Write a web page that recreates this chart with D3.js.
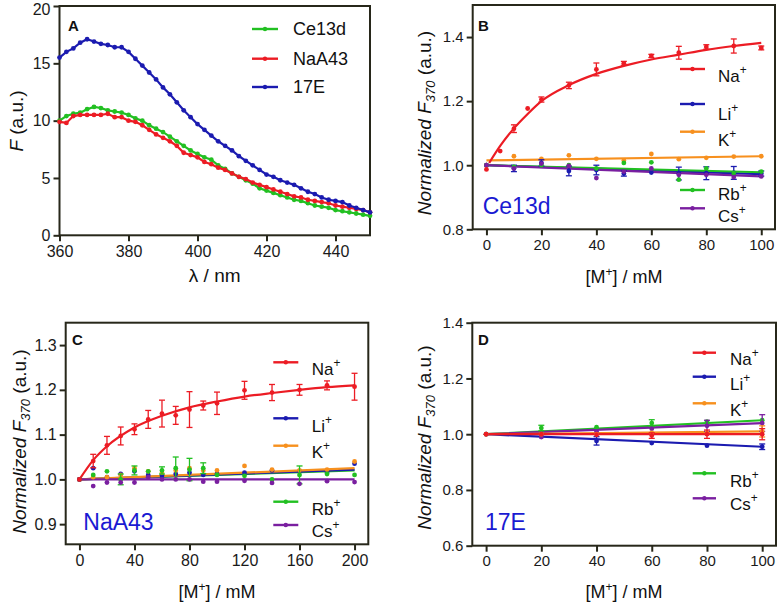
<!DOCTYPE html>
<html><head><meta charset="utf-8">
<script src="https://cdn.jsdelivr.net/npm/d3@7"></script>
<style>body{margin:0;background:#fff}svg{display:block;font-family:"Liberation Sans",Arial,sans-serif}</style>
</head><body><svg id="c" width="777" height="611"></svg>
<script>
// ---------- Panel A data ----------
const lambdaNm = [360,362,364,366,368,370,372,374,376,378,380,382,384,386,388,390,392,394,396,398,400,402,404,406,408,410,412,414,416,418,420,422,424,426,428,430,432,434,436,438,440,442,444,446,448,450];
const specCe13d = [10.0,10.4,10.6,10.7,11.0,11.2,11.1,10.9,10.8,10.7,10.5,10.2,10.0,9.6,9.3,9.0,8.6,8.2,7.8,7.4,7.1,6.8,6.6,6.1,5.8,5.4,5.1,4.8,4.5,4.1,3.9,3.7,3.5,3.3,3.1,3.0,2.8,2.6,2.5,2.4,2.2,2.1,2.0,1.9,1.8,1.7];
const specNaA43 = [9.9,9.8,10.4,10.5,10.5,10.5,10.5,10.6,10.3,10.3,10.0,9.9,9.6,9.2,8.8,8.5,8.2,7.8,7.2,7.0,6.8,6.4,6.2,5.9,5.7,5.4,5.1,4.9,4.6,4.4,4.2,4.0,3.8,3.6,3.4,3.3,3.1,3.0,2.9,2.8,2.6,2.5,2.4,2.3,2.2,2.0];
const spec17E = [15.5,16.0,16.3,16.8,17.1,16.9,16.7,16.6,16.4,16.4,16.0,15.4,14.8,14.2,13.6,12.9,12.3,11.6,10.9,10.3,9.7,9.2,8.7,8.2,7.8,7.4,6.9,6.5,6.1,5.7,5.3,5.1,4.8,4.6,4.4,4.1,3.8,3.6,3.3,3.1,3.0,2.9,2.6,2.4,2.2,2.0];
const ticksAx = [360,380,400,420,440];
const ticksAy = [0,5,10,15,20];

// ---------- Panel B data (Ce13d) ----------
const concB_Na = [0,5,10,15,20,30,40,50,60,70,80,90,100];
const concB = [0,10,20,30,40,50,60,70,80,90,100];
const B_Na = [0.987,1.044,1.114,1.177,1.205,1.249,1.299,1.318,1.341,1.351,1.369,1.372,1.366];
const B_NaErr = [0,0,0.012,0,0.008,0.01,0.02,0.006,0.005,0.02,0.007,0.022,0.006];
const B_Li = [1.0,0.99,1.007,0.982,0.985,0.974,0.977,0.974,0.975,0.976,0.974];
const B_LiErr = [0,0.01,0.01,0.015,0.015,0.008,0,0.02,0.02,0.02,0.008];
const B_K = [1.0,1.028,1.02,1.031,1.02,1.015,1.035,1.019,1.023,1.027,1.028];
const B_Rb = [1.0,0.995,1.0,1.0,0.99,1.007,1.009,0.955,0.99,0.976,0.98];
const B_Cs = [1.0,0.99,1.005,0.998,0.96,0.98,0.99,0.97,0.97,0.963,0.965];
const fitB_NaX = [1,5,10,15,20,30,40,50,60,70,80,90,100];
const fitB_Na = [1.007,1.06,1.115,1.16,1.2,1.25,1.285,1.31,1.33,1.345,1.36,1.372,1.382];
const fitLinX_B = [0,100];
const fitB_Li = [1.0,0.972], fitB_K = [1.015,1.028], fitB_Rb = [1.0,0.978], fitB_Cs = [1.0,0.965];
const ticksBx = [0,20,40,60,80,100];
const ticksBy = [0.8,1.0,1.2,1.4];

// ---------- Panel C data (NaA43) ----------
const concC = [0,10,20,30,40,50,60,70,80,90,100,120,140,160,180,200];
const C_Na = [1.0,1.041,1.076,1.097,1.112,1.134,1.147,1.143,1.156,1.165,1.17,1.199,1.194,1.2,1.21,1.207];
const C_NaErr = [0,0.015,0.02,0.02,0.012,0.02,0.03,0.02,0.04,0.01,0.025,0.02,0.018,0.012,0.01,0.03];
const C_Li = [1.0,1.025,1.005,1.012,1.018,1.01,1.008,1.012,1.015,1.01,1.012,1.015,1.02,1.018,1.015,1.035];
const C_K = [1.0,1.005,1.005,1.01,1.025,1.018,1.015,1.02,1.025,1.02,1.02,1.03,1.022,1.02,1.022,1.04];
const C_Rb = [1.0,1.01,1.018,1.0,1.02,1.018,1.02,1.025,1.022,1.025,1.01,1.008,1.0,1.01,1.012,1.01];
const C_RbErr = [0,0,0,0.012,0.01,0,0.008,0.025,0.025,0.012,0,0,0,0.02,0,0];
const C_Cs = [1.0,0.985,0.993,0.993,0.993,1.005,1.0,1.0,1.0,0.995,0.995,0.997,0.992,0.99,0.996,0.994];
const fitC_NaX = [0,10,20,40,60,80,100,120,140,160,180,200];
const fitC_Na = [1.0,1.043,1.074,1.116,1.142,1.161,1.174,1.185,1.193,1.2,1.206,1.21];
const fitLinX_C = [0,200];
const fitC_Li = [1.0,1.022], fitC_K = [1.0,1.025], fitC_Rb = [1.0,1.02], fitC_Cs = [1.0,1.0];
const ticksCx = [0,40,80,120,160,200];
const ticksCy = [0.9,1.0,1.1,1.2,1.3];

// ---------- Panel D data (17E) ----------
const concD = [0,20,40,60,80,100];
const D_Na = [1.0,1.0,0.998,0.995,1.0,1.0], D_NaErr = [0,0,0,0.01,0.015,0.02];
const D_Li = [1.0,0.991,0.976,0.968,0.959,0.955], D_LiErr = [0,0,0.015,0,0,0.01];
const D_K = [1.0,1.0,1.0,1.005,1.005,1.01], D_KErr = [0,0,0,0,0,0.02];
const D_Rb = [1.0,1.022,1.025,1.04,1.045,1.05], D_RbErr = [0,0.01,0,0.012,0,0];
const D_Cs = [1.0,0.99,1.01,1.02,1.03,1.04], D_CsErr = [0,0,0,0,0.02,0.03];
const fitLinX_D = [0,100];
const fitD_Na = [1.0,1.0], fitD_Li = [1.0,0.955], fitD_K = [1.0,1.01], fitD_Rb = [1.0,1.05], fitD_Cs = [1.0,1.04];
const ticksDx = [0,20,40,60,80,100];
const ticksDy = [0.6,0.8,1.0,1.2,1.4];

// ---------- drawing ----------
const svg = d3.select("#c");
const FRAME = "#27271a";
const COL = {Na:"#ec1c24", Li:"#1b1bb0", K:"#f7901e", Rb:"#22c022", Cs:"#7a1fa0",
             Ce13d:"#22c022", NaA43:"#ec1c24", E17:"#1b1bb0"};
const LABEL_BLUE = "#1a1ad2";

function makePanel(o){
  const x = d3.scaleLinear().domain(o.xd).range(o.xr);
  const y = d3.scaleLinear().domain(o.yd).range(o.yr);
  const g = svg.append("g");
  const xa = g.append("g").attr("transform",`translate(0,${o.yr[0]})`)
    .call(d3.axisBottom(x).tickValues(o.xt).tickSize(6).tickPadding(4).tickFormat(o.xf||d3.format("d")));
  const ya = g.append("g").attr("transform",`translate(${o.xr[0]},0)`)
    .call(d3.axisLeft(y).tickValues(o.yt).tickSize(6).tickPadding(3).tickFormat(o.yf||d3.format("d")));
  [xa,ya].forEach(a=>{
    a.select(".domain").remove();
    a.selectAll("line").attr("stroke",FRAME).attr("stroke-width",2);
    a.selectAll("text").attr("fill","#1a1a1a").style("font-size",o.tickFs+"px").style("font-family","Liberation Sans, Arial, sans-serif");
  });
  // keep the top-most y tick label inside the picture
  ya.selectAll(".tick text").filter(d=>y(d)<12).attr("dy","0.5em");
  g.append("rect").attr("x",o.xr[0]).attr("y",o.yr[1]).attr("width",o.xr[1]-o.xr[0]).attr("height",o.yr[0]-o.yr[1])
    .attr("fill","none").attr("stroke",FRAME).attr("stroke-width",2);
  g.append("text").attr("x",o.letter[1]).attr("y",o.letter[2]).text(o.letter[0])
    .style("font-size","15px").style("font-weight","bold").attr("fill","#111");
  const plot = g.append("g");
  return {x,y,g,plot};
}

function fitLine(p, xs, ys, color, curve){
  const line = d3.line().x((d,i)=>p.x(xs[i])).y(d=>p.y(d)).curve(curve||d3.curveLinear);
  p.plot.append("path").datum(ys).attr("d",line).attr("fill","none").attr("stroke",color).attr("stroke-width",2.2);
}
function points(p, xs, ys, errs, color){
  ys.forEach((v,i)=>{
    const cx = p.x(xs[i]), cy = p.y(v);
    const e = errs ? errs[i] : 0;
    if(e>0){
      const y1=p.y(v+e), y2=p.y(v-e);
      p.plot.append("line").attr("x1",cx).attr("x2",cx).attr("y1",y1).attr("y2",y2).attr("stroke",color).attr("stroke-width",1.3);
      [y1,y2].forEach(yy=>p.plot.append("line").attr("x1",cx-3).attr("x2",cx+3).attr("y1",yy).attr("y2",yy).attr("stroke",color).attr("stroke-width",1.3));
    }
    p.plot.append("circle").attr("cx",cx).attr("cy",cy).attr("r",2.4).attr("fill",color);
  });
}
function legendEntry(x1,x2,ly,tx,ty,color,label,sup,fs){
  svg.append("line").attr("x1",x1).attr("x2",x2).attr("y1",ly).attr("y2",ly).attr("stroke",color).attr("stroke-width",2.4);
  svg.append("circle").attr("cx",(x1+x2)/2).attr("cy",ly).attr("r",2.2).attr("fill",color);
  const t = svg.append("text").attr("x",tx).attr("y",ty).style("font-size",fs+"px").attr("fill","#111");
  t.append("tspan").text(label);
  if(sup){ t.append("tspan").attr("dy",-8).style("font-size",(fs*0.7)+"px").text(sup); }
}
function xTitleM(cx, by){
  const t = svg.append("text").attr("x",cx).attr("y",by).attr("text-anchor","middle").style("font-size","18px").attr("fill","#111");
  t.append("tspan").text("[M");
  t.append("tspan").attr("dy",-7).style("font-size","12px").text("+");
  t.append("tspan").attr("dy",7).text("] / mM");
}
function yTitleNorm(bx, cy){
  const t = svg.append("text").attr("transform",`translate(${bx},${cy}) rotate(-90)`).attr("text-anchor","middle")
    .style("font-size","19px").attr("fill","#111");
  t.append("tspan").style("font-style","italic").text("Normalized F");
  t.append("tspan").style("font-style","italic").style("font-size","13px").attr("dy",4).text("370");
  t.append("tspan").attr("dy",-4).text(" (a.u.)");
}

// ===== Panel A =====
const pA = makePanel({xd:[360,450], xr:[59.5,370], yd:[0,20], yr:[235.3,6], xt:ticksAx, yt:ticksAy, tickFs:16, letter:["A",68,31]});
[["Ce13d",specCe13d],["NaA43",specNaA43],["E17",spec17E]].forEach(([k,arr])=>{
  fitLine(pA, lambdaNm, arr, COL[k]);
  points(pA, lambdaNm, arr, null, COL[k]);
});
legendEntry(252,278,29,293,35,COL.Ce13d,"Ce13d",null,18);
legendEntry(252,278,58.7,293,64.5,COL.NaA43,"NaA43",null,18);
legendEntry(252,278,87,293,93,COL.E17,"17E",null,18);
svg.append("text").attr("x",214.7).attr("y",282).attr("text-anchor","middle").style("font-size","19px").attr("fill","#111").text("λ / nm");
(function(){
  const t = svg.append("text").attr("transform","translate(23,121) rotate(-90)").attr("text-anchor","middle").style("font-size","19px").attr("fill","#111");
  t.append("tspan").style("font-style","italic").text("F");
  t.append("tspan").text(" (a.u.)");
})();

// ===== Panel B =====
const f1 = d3.format(".1f");
const pB = makePanel({xd:[-5,105], xr:[472.7,775], yd:[0.8,1.5], yr:[229.3,5], xt:ticksBx, yt:ticksBy, yf:f1, tickFs:15, letter:["B",478,31]});
fitLine(pB, fitLinX_B, fitB_K, COL.K);
fitLine(pB, fitLinX_B, fitB_Li, COL.Li);
fitLine(pB, fitLinX_B, fitB_Rb, COL.Rb);
fitLine(pB, fitLinX_B, fitB_Cs, COL.Cs);
fitLine(pB, fitB_NaX, fitB_Na, COL.Na, d3.curveMonotoneX);
points(pB, concB, B_K, null, COL.K);
points(pB, concB, B_Li, B_LiErr, COL.Li);
points(pB, concB, B_Rb, null, COL.Rb);
points(pB, concB, B_Cs, null, COL.Cs);
points(pB, concB_Na, B_Na, B_NaErr, COL.Na);
legendEntry(680,705,69,718,82,COL.Na,"Na","+",17);
legendEntry(680,705,104,718,120,COL.Li,"Li","+",17);
legendEntry(680,705,131.7,718,146,COL.K,"K","+",17);
legendEntry(680,705,190,718,200,COL.Rb,"Rb","+",17);
legendEntry(680,705,208.3,718,222,COL.Cs,"Cs","+",17);
svg.append("text").attr("x",482.7).attr("y",214).style("font-size","23px").attr("fill",LABEL_BLUE).text("Ce13d");
xTitleM(624, 283);
yTitleNorm(430.5, 123);

// ===== Panel C =====
const pC = makePanel({xd:[-10,210], xr:[65.7,368.3], yd:[0.855,1.35], yr:[544.3,322.7], xt:ticksCx, yt:ticksCy, yf:f1, tickFs:16, letter:["C",72,345]});
fitLine(pC, fitLinX_C, fitC_Rb, COL.Rb);
fitLine(pC, fitLinX_C, fitC_Li, COL.Li);
fitLine(pC, fitLinX_C, fitC_K, COL.K);
fitLine(pC, fitLinX_C, fitC_Cs, COL.Cs);
fitLine(pC, fitC_NaX, fitC_Na, COL.Na, d3.curveMonotoneX);
points(pC, concC, C_Li, null, COL.Li);
points(pC, concC, C_K, null, COL.K);
points(pC, concC, C_Rb, C_RbErr, COL.Rb);
points(pC, concC, C_Cs, null, COL.Cs);
points(pC, concC, C_Na, C_NaErr, COL.Na);
legendEntry(273.3,298.3,362.3,311.7,375,COL.Na,"Na","+",17);
legendEntry(273.3,298.3,418.3,311.7,432,COL.Li,"Li","+",17);
legendEntry(273.3,298.3,445.7,311.7,458,COL.K,"K","+",17);
legendEntry(273.3,298.3,501.7,311.7,515,COL.Rb,"Rb","+",17);
legendEntry(273.3,298.3,525,311.7,537,COL.Cs,"Cs","+",17);
svg.append("text").attr("x",83.3).attr("y",530).style("font-size","23px").attr("fill",LABEL_BLUE).text("NaA43");
xTitleM(217, 598);
yTitleNorm(26, 441.5);

// ===== Panel D =====
const pD = makePanel({xd:[-5,105], xr:[472.3,776], yd:[0.6,1.4], yr:[545.7,322.7], xt:ticksDx, yt:ticksDy, yf:f1, tickFs:15, letter:["D",478,345]});
fitLine(pD, fitLinX_D, fitD_Li, COL.Li);
fitLine(pD, fitLinX_D, fitD_Rb, COL.Rb);
fitLine(pD, fitLinX_D, fitD_Cs, COL.Cs);
fitLine(pD, fitLinX_D, fitD_K, COL.K);
fitLine(pD, fitLinX_D, fitD_Na, COL.Na);
points(pD, concD, D_Li, D_LiErr, COL.Li);
points(pD, concD, D_Rb, D_RbErr, COL.Rb);
points(pD, concD, D_Cs, D_CsErr, COL.Cs);
points(pD, concD, D_K, D_KErr, COL.K);
points(pD, concD, D_Na, D_NaErr, COL.Na);
legendEntry(692.7,716,352.7,730,365,COL.Na,"Na","+",17);
legendEntry(692.7,716,376.7,730,390,COL.Li,"Li","+",17);
legendEntry(692.7,716,403.3,730,416,COL.K,"K","+",17);
legendEntry(692.7,716,473.3,730,487,COL.Rb,"Rb","+",17);
legendEntry(692.7,716,498.3,730,510,COL.Cs,"Cs","+",17);
svg.append("text").attr("x",485).attr("y",530).style("font-size","23px").attr("fill",LABEL_BLUE).text("17E");
xTitleM(624, 598);
yTitleNorm(430.5, 437.5);
</script></body></html>
